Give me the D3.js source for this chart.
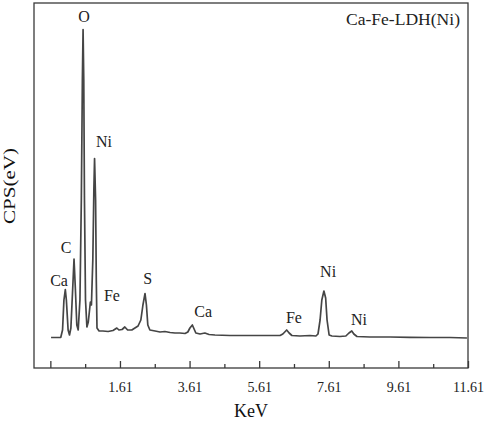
<!DOCTYPE html>
<html>
<head>
<meta charset="utf-8">
<script src="https://cdn.jsdelivr.net/npm/d3@7"></script>
<style>
  html, body { margin: 0; padding: 0; background: #fff; }
  svg { display: block; }
</style>
</head>
<body>
<svg id="chart" width="484" height="421"></svg>
<script>
// ── Data ─────────────────────────────────────────────────
const energy = [
  -0.37, -0.09, -0.04, 0.00, 0.04, 0.07, 0.12, 0.16, 0.20, 0.25, 0.29, 0.33,
  0.37, 0.41, 0.46, 0.50, 0.53, 0.55, 0.57, 0.59, 0.62, 0.66, 0.70, 0.76,
  0.79, 0.83, 0.86, 0.88, 0.91, 0.93, 0.95, 1.01, 1.12, 1.27, 1.41, 1.52,
  1.58, 1.67, 1.75, 1.83, 1.95, 2.04, 2.13, 2.21, 2.27, 2.33, 2.37, 2.41,
  2.47, 2.62, 2.76, 2.90, 3.05, 3.19, 3.33, 3.48, 3.56, 3.62, 3.69, 3.74,
  3.79, 3.91, 4.05, 4.17, 4.34, 4.77, 5.35, 5.92, 6.21, 6.29, 6.40, 6.47,
  6.55, 6.78, 7.07, 7.24, 7.30, 7.36, 7.41, 7.47, 7.52, 7.56, 7.62, 7.70,
  7.93, 8.10, 8.19, 8.27, 8.33, 8.42, 8.79, 9.37, 9.94, 10.52, 11.09, 11.58
];
const counts = [
  305, 307, 380, 680, 785, 680, 380, 330, 400, 780, 1090, 780,
  430, 380, 680, 1680, 2880, 3385, 2880, 1680, 680, 410, 460, 660,
  630, 1080, 1780, 2095, 1680, 880, 400, 370, 370, 365, 375, 400,
  380, 385, 410, 380, 380, 400, 420, 480, 630, 745, 630, 430,
  380, 370, 360, 365, 355, 350, 350, 345, 360, 400, 430, 390,
  350, 340, 350, 335, 330, 325, 325, 325, 325, 340, 380, 350,
  325, 320, 325, 320, 340, 480, 680, 770, 700, 480, 330, 320,
  315, 320, 350, 370, 340, 315, 310, 310, 307, 305, 305, 300
];

const peakNames  = ['Ca', 'C', 'O', 'Ni', 'Fe', 'S', 'Ca', 'Fe', 'Ni', 'Ni'];
const peakEnergy = [-0.14, 0.06, 0.58, 1.15, 1.38, 2.41, 4.00, 6.61, 7.59, 8.48];
const peakLevel  = [820, 1150, 3460, 2210, 670, 840, 510, 450, 913, 430];

const majorTicks = [-0.39, 1.61, 3.61, 5.61, 7.61, 9.61, 11.61];
const minorTicks = [0.61, 2.61, 4.61, 6.61, 8.61, 10.61];

const sampleName = 'Ca-Fe-LDH(Ni)';
const xTitle = 'KeV';
const yTitle = 'CPS(eV)';

// ── Layout ───────────────────────────────────────────────
const plot = { left: 34, top: 3, right: 468, bottom: 368 };
const ink = '#3a3a3a';
const serif = '"Liberation Serif", "Times New Roman", serif';

const svg = d3.select('#chart');

const x = d3.scaleLinear().domain([-0.86, 11.61]).range([plot.left, plot.right]);
const y = d3.scaleLinear().domain([0, 3650]).range([plot.bottom, plot.top]);

// Frame
svg.append('rect')
  .attr('x', plot.left).attr('y', plot.top)
  .attr('width', plot.right - plot.left).attr('height', plot.bottom - plot.top)
  .attr('fill', 'none').attr('stroke', ink).attr('stroke-width', 1.3);

// Bottom axis: major + minor ticks pointing inward
const axisMajor = d3.axisBottom(x)
  .tickValues(majorTicks)
  .tickSizeInner(-7).tickSizeOuter(0).tickPadding(14)
  .tickFormat(d => d < 0 ? '' : d3.format('.2f')(d));

const gx = svg.append('g')
  .attr('transform', `translate(0,${plot.bottom})`)
  .call(axisMajor);
gx.select('.domain').remove();
gx.selectAll('.tick line').attr('stroke', ink).attr('stroke-width', 1.3);
gx.selectAll('.tick text')
  .attr('fill', '#222')
  .attr('font-family', serif)
  .attr('font-size', 14);

const gMinor = svg.append('g')
  .attr('transform', `translate(0,${plot.bottom})`)
  .call(d3.axisBottom(x).tickValues(minorTicks).tickSizeInner(-4).tickSizeOuter(0).tickFormat(''));
gMinor.select('.domain').remove();
gMinor.selectAll('.tick line').attr('stroke', ink).attr('stroke-width', 1.3);

// Spectrum
const pts = energy.map((e, i) => [e, counts[i]]);
const line = d3.line()
  .x(d => x(d[0]))
  .y(d => y(d[1]));

svg.append('path')
  .datum(pts)
  .attr('fill', 'none')
  .attr('stroke', '#454545')
  .attr('stroke-width', 1.7)
  .attr('stroke-linejoin', 'round')
  .attr('d', line);

// Peak labels
svg.append('g').selectAll('text')
  .data(peakNames)
  .join('text')
  .attr('x', (d, i) => x(peakEnergy[i]))
  .attr('y', (d, i) => y(peakLevel[i]))
  .attr('text-anchor', 'middle')
  .attr('font-family', serif)
  .attr('font-size', 16)
  .attr('fill', '#222')
  .text(d => d);

// Sample name
svg.append('text')
  .attr('x', 460).attr('y', 25)
  .attr('text-anchor', 'end')
  .attr('font-family', serif)
  .attr('font-size', 16)
  .attr('fill', '#222')
  .attr('textLength', 114)
  .attr('lengthAdjust', 'spacingAndGlyphs')
  .text(sampleName);

// Axis titles
svg.append('text')
  .attr('x', (plot.left + plot.right) / 2).attr('y', 417)
  .attr('text-anchor', 'middle')
  .attr('font-family', serif)
  .attr('font-size', 18)
  .attr('fill', '#111')
  .text(xTitle);

svg.append('text')
  .attr('transform', `translate(15,186) rotate(-90)`)
  .attr('text-anchor', 'middle')
  .attr('font-family', serif)
  .attr('font-size', 16)
  .attr('fill', '#111')
  .attr('textLength', 76)
  .attr('lengthAdjust', 'spacingAndGlyphs')
  .text(yTitle);
</script>
</body>
</html>
